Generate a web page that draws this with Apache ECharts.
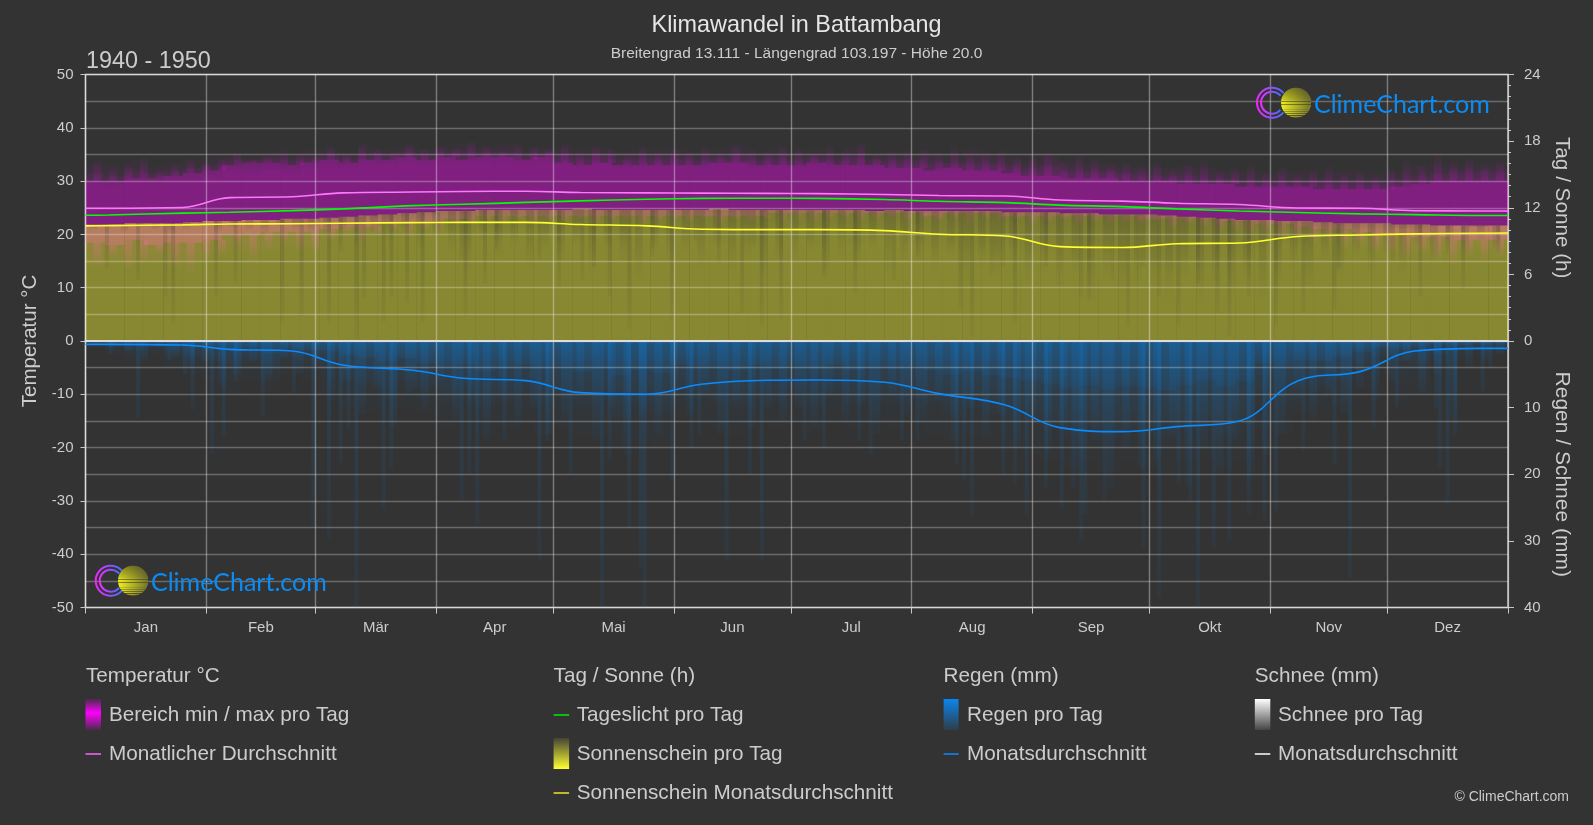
<!DOCTYPE html>
<html>
    <head>
        <meta charset="UTF-8" />
        <title>Klimawandel in Battambang</title>
        <style>
            html,
            body {
                margin: 0;
                padding: 0;
                background: #333333;
            }
            #chart {
                width: 1593px;
                height: 825px;
            }
        </style>
        <script src="https://cdn.jsdelivr.net/npm/echarts@6/dist/echarts.min.js"></script>
    </head>
    <body>
        <div id="chart"></div>
        <script>
            const monthStarts = [0, 31, 59, 90, 120, 151, 181, 212, 243, 273, 304, 334, 365];
            const monthNames = ["Jan", "Feb", "Mär", "Apr", "Mai", "Jun", "Jul", "Aug", "Sep", "Okt", "Nov", "Dez"];

            // monthly lines
            const curveDays = [0, 6, 25, 37, 53, 66, 84, 97, 113, 127, 144, 158, 175, 188, 205, 219, 236, 250, 266, 280, 296, 311, 327, 341, 358, 365];
            const tempAvg = [24.9, 24.9, 25.05, 26.9, 27.05, 27.8, 27.95, 28.05, 28.1, 27.85, 27.8, 27.75, 27.7, 27.65, 27.5, 27.3, 27.2, 26.45, 26.25, 25.85, 25.6, 24.95, 24.9, 24.45, 24.4, 24.4];
            const daylight = [11.33, 11.35, 11.52, 11.59, 11.74, 11.9, 12.19, 12.31, 12.48, 12.62, 12.77, 12.84, 12.86, 12.84, 12.74, 12.58, 12.46, 12.24, 12.1, 11.9, 11.71, 11.57, 11.45, 11.38, 11.3, 11.3];
            const sunAvg = [10.37, 10.39, 10.46, 10.54, 10.56, 10.61, 10.66, 10.68, 10.68, 10.49, 10.37, 10.06, 10.03, 10.03, 9.94, 9.62, 9.46, 8.5, 8.42, 8.76, 8.83, 9.41, 9.55, 9.65, 9.7, 9.72];
            const rainAvg = [0.5, 0.5, 0.6, 1.25, 1.5, 3.6, 4.4, 5.6, 5.95, 7.75, 8.0, 6.5, 5.9, 5.85, 6.2, 7.9, 9.6, 13.0, 13.6, 12.85, 12.0, 6.0, 4.6, 1.5, 1.1, 1.1];

            // daily ranges, read in 5 day steps
            const tempPeak = [33.5, 33, 34, 33, 33.5, 34, 34.5, 35, 34.5, 35.5, 35, 36, 36, 35.5, 36.5, 36, 36.5, 36, 36.5, 37, 36.5, 37, 36, 36.5, 36.5, 36, 36.5, 35.5, 36, 36, 36, 35.5, 36, 36.5, 35.5, 36, 35.5, 36, 35.5, 36.5, 35, 35.5, 35, 35.5, 35, 36, 35, 34.5, 34, 35, 34, 33.5, 33.5, 33, 33, 32.5, 33, 32.5, 32, 32, 31.5, 32, 32, 31.5, 32, 31.5, 31.5, 32, 33, 33.5, 33.5, 33.5, 33.5];
            const tempUpper = [31.5, 31, 32, 31.5, 32, 32.5, 33, 34, 34, 34.5, 34, 34.5, 35, 34.5, 35, 35, 35.5, 35, 35.5, 35.5, 35.5, 35.5, 35, 35.5, 35, 34.5, 35, 34, 34.5, 34.5, 34.5, 34, 34.5, 35, 34, 34.5, 34, 34.5, 34, 34.5, 34, 34, 34, 33.5, 33.5, 33.5, 33.5, 33, 32.5, 33, 32, 32, 32, 31.5, 31, 31, 31, 30.5, 30.5, 30, 30, 30, 30, 30, 30, 30, 30, 30.5, 31, 31.5, 32, 32, 32];
            const tempCore = [30, 30, 30.5, 30.5, 31, 31.5, 32, 33, 33.5, 33.5, 33, 33.5, 34, 33.5, 34, 34, 34.5, 34, 34.5, 34, 34.5, 34.5, 34, 34.5, 33.5, 33, 33.5, 33, 33, 33, 33, 33, 33.5, 33.5, 33, 33, 33, 33.5, 33, 33, 33, 32.5, 32.5, 32, 32.5, 32, 32, 31.5, 31, 31, 30.5, 30.5, 30.5, 30, 30, 30, 29.5, 29.5, 29.5, 29, 29, 29, 29, 28.5, 28.5, 28.5, 28.5, 29, 29.5, 30, 30, 30, 30];
            const tempLow = [18.5, 18, 19, 18, 18.5, 18.5, 19, 20, 20, 20.5, 20.5, 20.5, 21, 21.5, 21.5, 22, 22.5, 22.5, 23, 23, 23.5, 23.5, 23.5, 23.5, 23.5, 23.5, 23.5, 23.5, 23.5, 23.5, 23.5, 23.5, 23.5, 23.5, 23.5, 24, 24, 24, 24, 24, 24, 24, 24, 23.5, 24, 24, 24, 23.5, 23.5, 23.5, 23.5, 23.5, 23.5, 23.5, 23, 23, 23, 23, 22.5, 22.5, 22, 22, 21.5, 21, 21, 20.5, 20, 20, 19.5, 19.5, 19, 19, 19];
            const tempFloor = [14, 15, 14.5, 15, 14, 15, 16.5, 17, 17, 17, 18, 17.5, 19, 19.5, 20, 20.5, 21, 21.5, 22, 22, 23, 23, 22.5, 23, 23, 23, 23, 23, 22.5, 23, 23, 23, 23, 23, 23, 23.5, 23.5, 23.5, 23.5, 23.5, 23.5, 23.5, 23, 23, 23.5, 23.5, 23, 23, 23, 23, 23, 22.5, 22.5, 22.5, 22.5, 22, 22, 21.5, 21.5, 21, 20.5, 20, 19.5, 19.5, 19, 18, 17.5, 17, 16.5, 17, 16.5, 17, 17];
            const sunTop = [10.5, 10.5, 10.6, 10.6, 10.6, 10.7, 10.8, 10.8, 10.9, 10.9, 11, 11, 11.1, 11.2, 11.3, 11.4, 11.5, 11.6, 11.7, 11.7, 11.8, 11.8, 11.8, 11.8, 11.8, 11.9, 11.8, 11.8, 11.8, 11.8, 11.8, 11.8, 11.9, 11.8, 11.8, 11.8, 11.8, 11.8, 11.8, 11.8, 11.7, 11.8, 11.7, 11.7, 11.7, 11.7, 11.7, 11.6, 11.6, 11.6, 11.5, 11.5, 11.4, 11.4, 11.4, 11.3, 11.2, 11.1, 11, 10.9, 10.9, 10.8, 10.8, 10.7, 10.6, 10.6, 10.6, 10.5, 10.5, 10.4, 10.4, 10.4, 10.4];
            const sunShade = [10.5, 10.5, 10.6, 10.6, 10.6, 10.7, 10.8, 10.8, 10.9, 10.9, 10.6, 10.2, 10.4, 10.2, 10.5, 10.4, 10.2, 10.5, 9.8, 9.4, 9.8, 9.2, 9.8, 9.6, 9.4, 9, 9.4, 8.8, 9.6, 9.2, 9.4, 9, 8.6, 9.4, 8.8, 9.2, 9, 8.4, 9.2, 8.6, 9, 9.4, 8.6, 8.2, 7.8, 8, 7.6, 8.2, 7.2, 7.6, 6.8, 7.2, 7.6, 7, 6.6, 6.2, 7, 6.6, 7.4, 7.2, 8, 8.6, 8.2, 9, 9.4, 9.8, 9.6, 10, 9.6, 10.4, 10.4, 10.2, 10.4];
            const rainShallow = [0, 0.3, 0.5, 0.4, 0.6, 0.8, 1, 1.5, 1.2, 1.8, 1.2, 1.4, 1.5, 2.2, 2.5, 3, 2.6, 3.4, 4, 3.5, 4.5, 4, 3.6, 4.2, 3.8, 4.6, 4.2, 5.2, 4.4, 4.8, 3.6, 3.8, 4, 4.4, 3.6, 4, 3.8, 4.2, 3.6, 4.4, 4, 4.2, 3.8, 4.4, 5, 4.6, 5.2, 5.6, 6, 6.4, 7, 6.6, 7.2, 6.8, 7, 7.4, 6.6, 6, 6.8, 6, 3.4, 3.8, 2.8, 3, 2.4, 1.6, 1, 1.2, 0.8, 0.5, 0.6, 0.4, 0.4];
            const rainMiddle = [0.5, 1, 1.5, 1, 2, 2.5, 3, 4, 3, 5, 2.5, 3, 4, 6, 6.5, 8, 6, 7, 9, 8, 10, 9, 8, 9, 8.5, 10, 9, 11.5, 10, 11, 8, 8.5, 9, 10, 8, 9, 8, 9.5, 8, 9.5, 9, 9, 8.5, 9.5, 11, 10, 11, 12, 12, 13, 14, 13, 14.5, 13.5, 14, 14.5, 13, 12.5, 14, 12.5, 8, 9, 7, 7, 6, 4, 2.5, 3, 3.5, 2, 1.5, 1, 1];
            const rainDeep = [1, 2, 3, 2.5, 4, 5, 6, 8, 6, 7.5, 5, 6, 8, 10, 11, 12, 10, 11, 13, 12, 14, 13, 12, 14, 13, 14.5, 14, 16, 15, 16, 11.5, 12, 13, 14, 12, 13, 12, 13.5, 12, 13, 12.5, 13, 12, 14, 15, 14, 15, 16.5, 17, 18, 19, 18, 19.5, 18, 19, 20, 18, 17.5, 19, 18, 13, 14, 11, 11.5, 9.5, 7, 5, 9, 8, 4, 3, 2, 2];

            // finer edges, one value every 4 days
            const tempEdgeHigh = [34, 32.5, 33, 34.5, 32, 33, 34, 33.5, 34, 35.5, 34, 34.5, 36, 35, 34.5, 36.5, 35, 37, 36, 35.5, 37, 36, 36.5, 36, 37.5, 36.5, 35.5, 37, 36.5, 36, 37, 35.5, 36.5, 36, 35, 36.5, 35.5, 36, 35.5, 36.5, 35, 37, 36, 35.5, 36.5, 36, 35, 36.5, 35.5, 37, 35, 35.5, 36, 36, 35, 36.5, 35, 35.5, 36, 34.5, 35, 35.5, 33.5, 35, 34.5, 33, 33.5, 32.5, 33.5, 32, 33, 34, 32, 32.5, 33, 31.5, 32.5, 31, 32, 33, 31.5, 32, 31, 32.5, 34, 33, 35, 33.5, 34.5, 33, 34];
            const tempEdgeLow = [14, 16, 13.5, 15, 16.5, 14.5, 13, 15, 16, 18, 15, 17.5, 18.5, 17, 16.5, 19, 20.5, 18.5, 20, 21, 19.5, 21, 20.5, 22, 21.5, 22.5, 22, 23, 22, 22.5, 22.5, 23, 22, 22.5, 23, 22, 22.5, 23, 22.5, 23, 22, 23, 22.5, 23, 22.5, 23, 22.5, 23, 23, 22.5, 23, 23, 22.5, 23, 22.5, 23, 22, 23, 22.5, 23, 22, 22.5, 23, 22, 22.5, 22, 22.5, 22, 22.5, 21, 22, 21.5, 20.5, 21, 20, 20.5, 19.5, 20, 18.5, 19, 17.5, 18.5, 17, 16.5, 15.5, 17, 15, 14.5, 16, 15, 16];
            const sunEdge = [10, 10.2, 9.8, 10.3, 10, 9.6, 10, 10.3, 9.8, 10.2, 9.9, 9.6, 10.3, 10, 9.6, 9.4, 9.8, 8.5, 9.5, 9, 9.8, 8.2, 9.2, 8, 6, 9, 7.5, 8.5, 6.5, 8, 7, 8.5, 6, 8, 7, 5.5, 8, 7, 8, 6.5, 8.5, 6, 7.5, 5.5, 7, 7, 8, 5.5, 7.5, 6.5, 8, 6, 7, 7, 6, 7.5, 5, 6.5, 5.5, 7, 5, 6, 4.5, 6, 3.5, 5.5, 4, 5, 4.5, 3.5, 5.5, 3, 5, 4, 5.5, 3.5, 5, 6.5, 4.5, 7, 5.5, 7.5, 6, 7.5, 6, 8.5, 7, 9, 7.5, 9, 8];
            const rainEdge = [0.5, 1, 1.5, 3, 1, 2.5, 4, 3, 7, 5, 3, 6, 2.5, 5, 3.5, 9, 6, 11, 7, 13, 8, 10, 6, 12, 9, 15, 8, 13, 10, 14, 12, 8, 15, 10, 17, 11, 14, 9, 11, 8, 14, 9, 13, 10, 12, 10, 13, 8, 12, 9, 14, 8, 11, 12, 9, 15, 10, 14, 11, 16, 12, 17, 13, 20, 15, 22, 16, 19, 18, 14, 22, 16, 20, 15, 21, 17, 14, 9, 12, 8, 11, 7, 9, 6, 3, 8, 5, 12, 4, 3, 2];

            // single days that stand out
            const sunDipDays = [5, 13, 20, 22, 33, 38, 50, 55, 62, 65, 69, 71, 76, 78, 82, 86, 96, 97, 102, 105, 116, 121, 127, 130, 134, 139, 145, 150, 156, 162, 168, 171, 173, 178, 189, 197, 207, 213, 224, 227, 232, 235, 238, 246, 255, 257, 263, 267, 271, 275, 280, 285, 290, 293, 298, 305, 312, 320, 321, 335, 342, 349, 353, 362];
            const sunDipHours = [6.5, 5.5, 4, 1.6, 4, 5.3, 1.6, 2.2, 1.6, 8, 0.2, 3.8, 1.7, 4, 3.5, 1.7, 7.3, 2.2, 5.2, 8.2, 7.3, 4.8, 5.5, 6.7, 4, 1, 7.6, 1.9, 9, 7, 2.5, 8.5, 1.3, 2, 5.8, 4.3, 5.5, 7.6, 2.8, 0.4, 6, 6.7, 1.6, 6.7, 4, 3.7, 5.5, 1.3, 6.7, 4, 1.3, 5.2, 2.5, 0.4, 4, 1.3, 2.5, 2.8, 6.5, 7.2, 4, 7.9, 4.6, 7.9];
            const rainDays = [6, 13, 21, 25, 27, 32, 35, 38, 45, 53, 58, 62, 65, 67, 69, 76, 78, 84, 96, 98, 100, 107, 116, 118, 124, 132, 134, 139, 142, 143, 150, 155, 157, 164, 170, 173, 184, 189, 198, 201, 209, 213, 223, 225, 227, 235, 238, 241, 246, 250, 253, 255, 256, 261, 271, 275, 280, 283, 285, 289, 293, 298, 302, 305, 312, 320, 324, 330, 336, 346, 347, 349, 351, 358, 360];
            const rainDepths = [2, 11.5, 3, 5, 10.3, 17, 14.4, 6, 11.3, 7.8, 28, 29.6, 18.3, 13.3, 40, 25.3, 19, 7, 24, 20, 27.5, 14.8, 33, 15, 20, 40, 18, 28, 34, 40, 21, 16, 14, 33, 20, 33, 15, 16, 15, 17, 15, 15, 18.5, 21, 26.5, 20, 21.5, 26, 22, 25, 22, 30, 26, 24, 31, 38.5, 21.5, 24, 40, 31, 30, 26, 27, 25.5, 16.5, 18.5, 35.5, 13, 10, 10, 19, 24.6, 14, 7.5, 4];

            const font = "'Liberation Sans', Arial, sans-serif";
            const textColor = "#cccccc";
            const grids = [
                { left: 85.5, right: 85, top: 74.5, height: 533, show: true, borderColor: "#c8c8c8", borderWidth: 1.5 },
                { left: 85.5, right: 85, top: 74.5, height: 266.5 },
                { left: 85.5, right: 85, top: 341, height: 266.5 },
            ];

            function block(name, axis, data, fill) {
                return {
                    name: name,
                    type: "custom",
                    xAxisIndex: axis,
                    yAxisIndex: axis,
                    silent: true,
                    data: data,
                    renderItem: (params, api) => {
                        const a = api.coord([api.value(0), api.value(1)]);
                        const b = api.coord([api.value(0) + api.value(3), api.value(2)]);
                        return {
                            type: "rect",
                            shape: { x: a[0], y: Math.min(a[1], b[1]), width: b[0] - a[0], height: Math.abs(b[1] - a[1]) },
                            style: { fill: fill },
                        };
                    },
                };
            }

            // [first day, from, to, days wide]
            function fiveDays(from, to) {
                return to.map((v, i) => [i * 5, Array.isArray(from) ? from[i] : from, v, 5]);
            }

            // vertical fade inside one block, top to bottom
            function fade(rgb, alphas) {
                return new echarts.graphic.LinearGradient(
                    0,
                    0,
                    0,
                    1,
                    alphas.map((a, i) => ({ offset: i / (alphas.length - 1), color: "rgba(" + rgb + "," + a + ")" }))
                );
            }

            function curve(name, axis, values, color) {
                return {
                    name: name,
                    type: "line",
                    xAxisIndex: axis,
                    yAxisIndex: axis,
                    z: 10,
                    silent: true,
                    showSymbol: false,
                    smooth: 0.4,
                    lineStyle: { color: color, width: 1.6 },
                    data: curveDays.map((d, i) => [d, values[i]]),
                };
            }

            function legendText(x, y, text, size) {
                return { type: "text", x: x, y: y, style: { text: text, fill: textColor, font: (size || 20.7) + "px " + font, textVerticalAlign: "middle" } };
            }

            function swatch(x, y, w, h, stops) {
                return { type: "rect", shape: { x: x, y: y, width: w, height: h }, style: { fill: new echarts.graphic.LinearGradient(0, 0, 0, 1, stops) } };
            }

            function dash(x, y, w, color) {
                return { type: "rect", shape: { x: x, y: y - 0.75, width: w, height: 1.5 }, style: { fill: color } };
            }

            function logo(cx, sunX, cy, textX) {
                const ring = new echarts.graphic.LinearGradient(0, 0, 1, 0, [
                    { offset: 0, color: "#ff22ff" },
                    { offset: 1, color: "#3377ff" },
                ]);
                const bands = [{ offset: 0, color: "#8f8a1e" }, { offset: 0.4, color: "#d2d21e" }];
                [0.45, 0.55, 0.63, 0.7, 0.77, 0.84, 0.91].forEach((o) => {
                    bands.push({ offset: o, color: "#eeee1e" }, { offset: o + 0.015, color: "#55521f" }, { offset: o + 0.03, color: "#eeee1e" });
                });
                bands.push({ offset: 1, color: "#77741f" });
                const shade = new echarts.graphic.LinearGradient(0, 0, 1, 0, [
                    { offset: 0, color: "rgba(51,51,51,0)" },
                    { offset: 1, color: "rgba(51,51,51,0.65)" },
                ]);
                return [
                    { type: "arc", z: 20, shape: { cx: cx, cy: cy, r: 15, startAngle: 0.7, endAngle: 5.6, clockwise: true }, style: { stroke: ring, lineWidth: 2, fill: null } },
                    { type: "arc", z: 20, shape: { cx: cx, cy: cy, r: 11, startAngle: 0.7, endAngle: 5.6, clockwise: true }, style: { stroke: ring, lineWidth: 2, fill: null } },
                    { type: "circle", z: 21, shape: { cx: sunX, cy: cy, r: 15 }, style: { fill: new echarts.graphic.LinearGradient(0, 0, 0, 1, bands) } },
                    { type: "circle", z: 22, shape: { cx: sunX, cy: cy, r: 15 }, style: { fill: shade } },
                    { type: "text", z: 22, x: textX, y: cy + 2, style: { text: "ClimeChart.com", fill: "#0a8cf4", font: "400 25px Lato, sans-serif", textVerticalAlign: "middle" } },
                ];
            }

            const chart = echarts.init(document.getElementById("chart"));
            const labelDays = monthNames.map((n, i) => (monthStarts[i] + monthStarts[i + 1]) / 2);

            const magenta = (a) => "rgba(255,0,255," + a + ")";

            chart.setOption({
                backgroundColor: "#333333",
                animation: false,
                textStyle: { fontFamily: font },
                title: [
                    { text: "Klimawandel in Battambang", left: "center", top: 9, textStyle: { color: "#e6e6e6", fontSize: 23.4, fontWeight: "normal", fontFamily: font } },
                    { text: "Breitengrad 13.111 - Längengrad 103.197 - Höhe 20.0", left: "center", top: 41, textStyle: { color: textColor, fontSize: 15.5, fontWeight: "normal", fontFamily: font } },
                    { text: "1940 - 1950", left: 81, top: 45, textStyle: { color: textColor, fontSize: 23.4, fontWeight: "normal", fontFamily: font } },
                ],
                grid: grids,
                xAxis: [
                    {
                        type: "value",
                        gridIndex: 0,
                        min: 0,
                        max: 365,
                        z: 5,
                        axisLine: { show: false, onZero: false },
                        axisTick: { show: true, customValues: monthStarts, length: 6, lineStyle: { color: "#c8c8c8" } },
                        axisLabel: {
                            customValues: labelDays,
                            color: textColor,
                            fontSize: 15,
                            margin: 13,
                            formatter: (v) => monthNames[labelDays.indexOf(v)],
                        },
                        splitLine: { show: true, lineStyle: { color: "rgba(255,255,255,0.36)", width: 1.4 } },
                    },
                    { type: "value", gridIndex: 1, min: 0, max: 365, z: 6, axisTick: { show: false }, axisLabel: { show: false }, splitLine: { show: false }, axisLine: { show: true, onZero: false, lineStyle: { color: "#dddddd", width: 2 } } },
                    { type: "value", gridIndex: 2, min: 0, max: 365, axisLine: { show: false, onZero: false }, axisTick: { show: false }, axisLabel: { show: false }, splitLine: { show: false } },
                ],
                yAxis: [
                    {
                        type: "value",
                        gridIndex: 0,
                        min: -50,
                        max: 50,
                        interval: 10,
                        z: 5,
                        name: "Temperatur °C",
                        nameLocation: "middle",
                        nameGap: 30,
                        nameTextStyle: { color: textColor, fontSize: 20.5 },
                        axisLine: { show: false, onZero: false },
                        axisTick: { show: true, length: 5, lineStyle: { color: "#c8c8c8" } },
                        axisLabel: { color: textColor, fontSize: 15, margin: 12 },
                        splitLine: { show: true, lineStyle: { color: "rgba(255,255,255,0.27)", width: 1.4 } },
                        minorTick: { show: false, splitNumber: 2 },
                        minorSplitLine: { show: true, lineStyle: { color: "rgba(255,255,255,0.27)", width: 1.4 } },
                    },
                    {
                        type: "value",
                        gridIndex: 1,
                        position: "right",
                        min: 0,
                        max: 24,
                        interval: 6,
                        name: "Tag / Sonne (h)",
                        nameLocation: "middle",
                        nameRotate: -90,
                        nameGap: 43,
                        nameTextStyle: { color: textColor, fontSize: 20.7 },
                        axisLine: { show: false, onZero: false },
                        axisTick: { show: true, length: 6, lineStyle: { color: "#c8c8c8" } },
                        axisLabel: { color: textColor, fontSize: 15, margin: 16 },
                        splitLine: { show: false },
                        minorTick: { show: true, splitNumber: 6, length: 3, lineStyle: { color: "#c8c8c8" } },
                    },
                    {
                        type: "value",
                        gridIndex: 2,
                        position: "right",
                        inverse: true,
                        min: 0,
                        max: 40,
                        interval: 10,
                        name: "Regen / Schnee (mm)",
                        nameLocation: "middle",
                        nameRotate: -90,
                        nameGap: 43,
                        nameTextStyle: { color: textColor, fontSize: 21 },
                        axisLine: { show: false, onZero: false },
                        axisTick: { show: true, length: 6, lineStyle: { color: "#c8c8c8" } },
                        axisLabel: { color: textColor, fontSize: 15, margin: 16, showMinLabel: false },
                        splitLine: { show: false },
                    },
                ],
                series: [
                    block("Temperatur Rand", 0, fiveDays(tempFloor, tempPeak), fade("255,0,255", [0.02, 0.08, 0.08, 0.08, 0.08, 0.02])),
                    block("Temperatur Mitte", 0, fiveDays(tempLow, tempUpper), fade("255,0,255", [0.04, 0.14, 0.14, 0.14, 0.14, 0.14])),
                    block("Temperatur Kern", 0, fiveDays(tempLow, tempCore), magenta(0.22)),
                    block("Temperatur oben", 0, tempEdgeHigh.map((v, i) => [2 + i * 4, tempCore[Math.floor((2 + i * 4) / 5)], v, 2]), fade("255,0,255", [0.02, 0.16])),
                    block("Temperatur unten", 0, tempEdgeLow.map((v, i) => [2 + i * 4, v, tempLow[Math.floor((2 + i * 4) / 5)], 2]), fade("255,0,255", [0.24, 0.03])),
                    block("Sonnenschein pro Tag", 1, fiveDays(0, sunTop), "rgba(255,255,51,0.42)"),
                    block("Sonne Schatten", 1, fiveDays(sunShade, sunTop), fade("45,45,45", [0.16, 0])),
                    block("Sonne Kante", 1, sunEdge.map((v, i) => [1 + i * 4, v, sunTop[Math.floor((1 + i * 4) / 5)], 2]), fade("45,45,45", [0.2, 0])),
                    block("Sonne Tage", 1, sunDipDays.map((d, i) => [d, sunDipHours[i], sunTop[Math.floor(d / 5)], 1]), fade("45,45,45", [0.2, 0.05])),
                    block("Regen tief", 2, fiveDays(0, rainDeep), fade("0,140,255", [0.07, 0.01])),
                    block("Regen mittel", 2, fiveDays(0, rainMiddle), fade("0,140,255", [0.14, 0.02])),
                    block("Regen flach", 2, fiveDays(0, rainShallow), fade("0,140,255", [0.2, 0.06])),
                    block("Regen Kante", 2, rainEdge.map((v, i) => [2 + i * 4, 0, v, 2]), fade("0,140,255", [0.16, 0.03])),
                    block("Regen Tage", 2, rainDays.map((d, i) => [d, 0, rainDepths[i], 1]), fade("0,140,255", [0.14, 0.06])),
                    curve("Tageslicht pro Tag", 1, daylight, "#00ff00"),
                    curve("Sonnenschein Monatsdurchschnitt", 1, sunAvg, "#ffff33"),
                    curve("Monatlicher Durchschnitt", 0, tempAvg, "#ff77ff"),
                    curve("Monatsdurchschnitt", 2, rainAvg, "#0a8cff"),
                ],
                graphic: [
                    ...logo(1272, 1296, 102.7, 1314),
                    ...logo(110.7, 133, 580.7, 151),
                    legendText(86, 676, "Temperatur °C"),
                    swatch(85.5, 699, 15.5, 31, [
                        { offset: 0, color: "#4a2a4a" },
                        { offset: 0.45, color: "#ff00ff" },
                        { offset: 1, color: "#4a2a4a" },
                    ]),
                    legendText(109, 715, "Bereich min / max pro Tag"),
                    dash(85.5, 754, 15.5, "#ff66ff"),
                    legendText(109, 754, "Monatlicher Durchschnitt"),
                    legendText(553.6, 676, "Tag / Sonne (h)"),
                    dash(553.6, 715, 15.5, "#00ee00"),
                    legendText(576.7, 715, "Tageslicht pro Tag"),
                    swatch(553.6, 738, 15.5, 31, [
                        { offset: 0, color: "#444433" },
                        { offset: 1, color: "#ffff33" },
                    ]),
                    legendText(576.7, 754, "Sonnenschein pro Tag"),
                    dash(553.6, 793, 15.5, "#e8e830"),
                    legendText(576.7, 793, "Sonnenschein Monatsdurchschnitt"),
                    legendText(943.6, 676, "Regen (mm)"),
                    swatch(943.6, 699, 15, 31, [
                        { offset: 0, color: "#0a86ee" },
                        { offset: 1, color: "#2f3d4a" },
                    ]),
                    legendText(967, 715, "Regen pro Tag"),
                    dash(943.6, 754, 15, "#0a8cff"),
                    legendText(967, 754, "Monatsdurchschnitt"),
                    legendText(1254.8, 676, "Schnee (mm)"),
                    swatch(1254.8, 699, 15.5, 31, [
                        { offset: 0, color: "#ffffff" },
                        { offset: 1, color: "#444444" },
                    ]),
                    legendText(1278, 715, "Schnee pro Tag"),
                    dash(1254.8, 754, 15.5, "#ffffff"),
                    legendText(1278, 754, "Monatsdurchschnitt"),
                    { type: "text", right: 24, y: 797, style: { text: "© ClimeChart.com", fill: textColor, font: "14px " + font, textVerticalAlign: "middle" } },
                ],
            });
        </script>
    </body>
</html>
